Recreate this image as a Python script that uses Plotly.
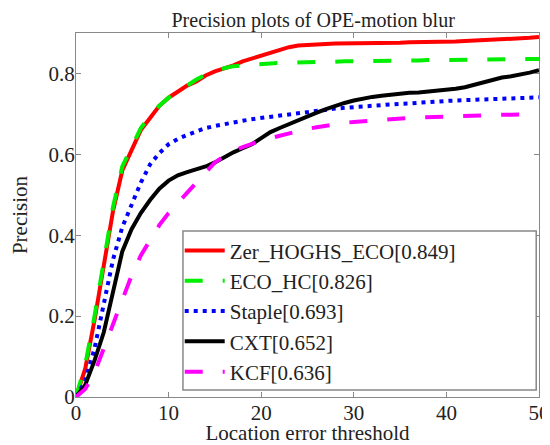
import plotly.graph_objects as go

thresholds = list(range(0, 51))

zer_hoghs_eco = [0.00, 0.07, 0.19, 0.33, 0.46, 0.56, 0.61, 0.66, 0.69, 0.72,
                 0.74, 0.755, 0.77, 0.78, 0.795, 0.805, 0.812, 0.82, 0.83, 0.837,
                 0.845, 0.852, 0.860, 0.865, 0.869, 0.871, 0.873, 0.873, 0.874, 0.874,
                 0.875, 0.875, 0.875, 0.876, 0.876, 0.876, 0.877, 0.877, 0.877, 0.877,
                 0.878, 0.879, 0.880, 0.881, 0.881, 0.882, 0.884, 0.885, 0.887, 0.888,
                 0.890]
eco_hc = [0.00, 0.08, 0.20, 0.34, 0.47, 0.57, 0.62, 0.665, 0.695, 0.72,
          0.74, 0.755, 0.77, 0.785, 0.797, 0.806, 0.813, 0.818, 0.820, 0.822,
          0.824, 0.825, 0.826, 0.827, 0.827, 0.828, 0.828, 0.829, 0.829, 0.830,
          0.830, 0.830, 0.831, 0.831, 0.831, 0.832, 0.832, 0.832, 0.833, 0.833,
          0.833, 0.833, 0.834, 0.834, 0.834, 0.835, 0.835, 0.835, 0.836, 0.836,
          0.836]
staple = [0.00, 0.04, 0.12, 0.23, 0.34, 0.42, 0.475, 0.53, 0.575, 0.603,
          0.625, 0.638, 0.648, 0.657, 0.665, 0.670, 0.675, 0.680, 0.683, 0.687,
          0.690, 0.694, 0.697, 0.700, 0.703, 0.706, 0.708, 0.711, 0.713, 0.715,
          0.717, 0.719, 0.720, 0.722, 0.723, 0.725, 0.726, 0.728, 0.729, 0.731,
          0.732, 0.733, 0.734, 0.735, 0.736, 0.737, 0.738, 0.739, 0.740, 0.740,
          0.741]
cxt = [0.00, 0.03, 0.09, 0.16, 0.26, 0.36, 0.415, 0.455, 0.487, 0.515,
       0.535, 0.548, 0.556, 0.563, 0.570, 0.580, 0.593, 0.605, 0.615, 0.625,
       0.640, 0.655, 0.665, 0.675, 0.685, 0.695, 0.703, 0.712, 0.720, 0.727,
       0.733, 0.738, 0.742, 0.745, 0.748, 0.750, 0.752, 0.753, 0.755, 0.757,
       0.758, 0.762, 0.766, 0.772, 0.778, 0.785, 0.790, 0.793, 0.797, 0.802,
       0.808]
kcf = [0.00, 0.02, 0.06, 0.12, 0.18, 0.24, 0.30, 0.35, 0.39, 0.425,
       0.455, 0.48, 0.505, 0.53, 0.555, 0.58, 0.595, 0.608, 0.618, 0.627,
       0.634, 0.640, 0.646, 0.652, 0.658, 0.663, 0.667, 0.671, 0.675, 0.678,
       0.680, 0.682, 0.684, 0.686, 0.687, 0.689, 0.690, 0.691, 0.692, 0.693,
       0.694, 0.694, 0.695, 0.695, 0.696, 0.697, 0.698, 0.698, 0.699, 0.699,
       0.700]

names = ["Zer_HOGHS_ECO[0.849]", "ECO_HC[0.826]", "Staple[0.693]", "CXT[0.652]", "KCF[0.636]"]
series = [zer_hoghs_eco, eco_hc, staple, cxt, kcf]
colors = ["#ff0000", "#00ee00", "#0000ff", "#000000", "#ff00ff"]
dashes = ["solid", "18px,20px", "4px,5px", "solid", "18px,20px"]

fig = go.Figure()
for name, ys, c, d in zip(names, series, colors, dashes):
    fig.add_trace(go.Scatter(x=thresholds, y=ys, mode="lines", name=name,
                             line=dict(color=c, width=4, dash=d)))

font = "Liberation Serif"
txt = "#222222"
axis_common = dict(showgrid=False, zeroline=False, showline=True, linecolor="#888888",
                   linewidth=1.2, mirror="ticks", ticks="inside", ticklen=5,
                   tickcolor="#888888", automargin=False,
                   tickfont=dict(family=font, size=21, color=txt))

# legend frame (box drawn in paper coordinates)
fig.add_shape(type="rect", xref="paper", yref="paper", x0=0.231, x1=0.994, y0=0.019, y1=0.456,
              fillcolor="white", line=dict(color="#888888", width=1.5), layer="above")

# page body adds an 8px offset, so the figure is 542x437
fig.update_layout(
    width=542, height=437,
    margin=dict(l=68, r=11, t=25, b=48),
    paper_bgcolor="white", plot_bgcolor="white",
    title=dict(text="Precision plots of OPE-motion blur", x=0.563, xanchor="center",
               y=0.972, yanchor="middle", font=dict(family=font, size=20, color=txt)),
    xaxis=dict(range=[0, 50], tickvals=[0, 10, 20, 30, 40, 50], ticklabelstandoff=-3,
               title=dict(text="Location error threshold", standoff=5,
                          font=dict(family=font, size=21, color=txt)),
               **axis_common),
    yaxis=dict(range=[0, 0.9], tickvals=[0, 0.2, 0.4, 0.6, 0.8], ticklabelstandoff=-4,
               title=dict(text="Precision", standoff=20,
                          font=dict(family=font, size=21, color=txt)),
               **axis_common),
    legend=dict(x=0.224, y=0.458, xanchor="left", yanchor="top",
                bgcolor="rgba(0,0,0,0)", borderwidth=0,
                font=dict(family=font, size=21, color=txt),
                itemwidth=40, tracegroupgap=0),
    showlegend=True,
)

fig.write_html("out.html")
